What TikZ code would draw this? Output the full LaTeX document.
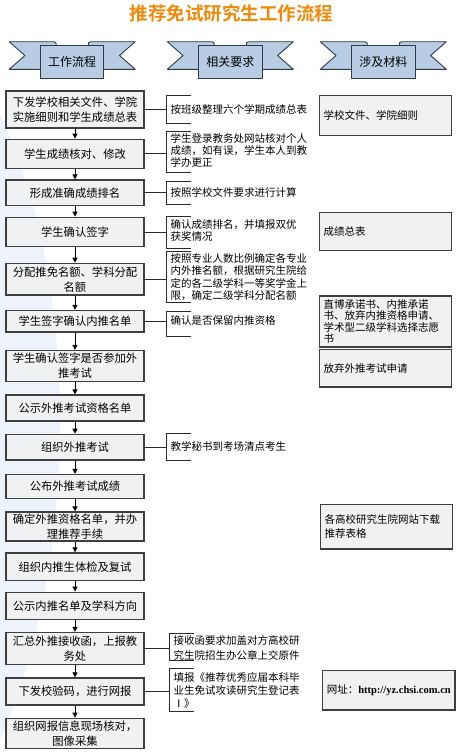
\documentclass[tikz,border=0pt]{standalone}
\usepackage{fontspec}
\setmainfont{Noto Sans CJK SC}
\newfontfamily\cjkbold{Noto Sans CJK SC Bold}
\newfontfamily\urlfont{Liberation Serif}
\usetikzlibrary{arrows.meta}
\definecolor{titleorange}{HTML}{F08A0A}
\definecolor{ribfill}{HTML}{B8CDE4}
\definecolor{ribline}{HTML}{2E3A47}
\definecolor{boxfill}{HTML}{EFF1F3}
\definecolor{boxline}{HTML}{3F3F3F}
\definecolor{brkline}{HTML}{2A2A2A}
\definecolor{swoosh}{HTML}{ECF3FA}
\tikzset{
  flowbox/.style={draw=boxline, fill=boxfill, line width=1.3pt, minimum width=138pt,
    text width=130pt, align=center, inner sep=0pt, font=\fontsize{11.3}{15}\selectfont},
  matbox/.style={draw=boxline, fill=boxfill, line width=1.3pt, minimum width=132.4pt,
    text width=124pt, align=left, inner xsep=4pt, inner ysep=0pt, font=\fontsize{10.5}{11.6}\selectfont},
  req/.style={align=left, inner sep=1pt, anchor=west, font=\fontsize{10.5}{12}\selectfont},
  brk/.style={draw=brkline, line width=0.9pt},
  conn/.style={draw=brkline, line width=0.9pt},
  flowarrow/.style={draw=black, line width=1pt, -{Triangle[length=5pt,width=5pt]}},
  ribstyle/.style={draw=ribline, fill=ribfill, line width=0.9pt, line join=round},
  ribtext/.style={font=\fontsize{12}{14}\selectfont, inner sep=0pt},
  ribbon/.pic={
    \path[ribstyle] (-63,41.7) -- (-18.5,41.7) .. controls (-16,41.7) and (-16,43) .. (-16,45.7)
       -- (-16,69.3) -- (-63,69.3) -- (-47.3,55.5) -- cycle;
    \path[ribstyle] (63,41.7) -- (18.5,41.7) .. controls (16,41.7) and (16,43) .. (16,45.7)
       -- (16,69.3) -- (63,69.3) -- (47.3,55.5) -- cycle;
    \path[ribstyle] (-31.7,45.7) rectangle (31.7,78.3);
  }
}
\begin{document}
\begin{tikzpicture}[x=1pt,y=-1pt]
\useasboundingbox (0,0) rectangle (462,755);
\fill[white] (0,0) rectangle (462,755);
% faint background swoosh
\fill[swoosh] (0,115) .. controls (80,280) and (80,560) .. (0,740) -- cycle;

% title
\node[font=\cjkbold\fontsize{18.5}{20}\selectfont, text=titleorange, inner sep=0pt] (title) at (231.7,13) {推荐免试研究生工作流程};

% ribbons
\pic at (72.2,0) {ribbon};
\pic at (230.3,0) {ribbon};
\pic at (383.3,0) {ribbon};
\node[ribtext] (h1) at (72.2,61.5) {工作流程};
\node[ribtext] (h2) at (230.3,61.5) {相关要求};
\node[ribtext] (h3) at (383.3,61.5) {涉及材料};

% left flow boxes
\node[flowbox, minimum height=37pt]   (b1)  at (75,109.5) {下发学校相关文件、学院\\实施细则和学生成绩总表};
\node[flowbox, minimum height=29pt]   (b2)  at (75,153.8) {学生成绩核对、修改};
\node[flowbox, minimum height=25.7pt] (b3)  at (75,192.9) {形成准确成绩排名};
\node[flowbox, minimum height=29.4pt] (b4)  at (75,232)   {学生确认签字};
\node[flowbox, minimum height=31.7pt] (b5)  at (75,279.2) {分配推免名额、学科分配\\名额};
\node[flowbox, minimum height=21.5pt] (b6)  at (75,321.2) {学生签字确认内推名单};
\node[flowbox, minimum height=31pt]   (b7)  at (75,366)   {学生确认签字是否参加外\\推考试};
\node[flowbox, minimum height=26pt]   (b8)  at (75,408)   {公示外推考试资格名单};
\node[flowbox, minimum height=25.7pt] (b9)  at (75,447.2) {组织外推考试};
\node[flowbox, minimum height=24pt]   (b10) at (75,486.5) {公布外推考试成绩};
\node[flowbox, minimum height=29pt]   (b11) at (75,526.5) {确定外推资格名单，并办\\理推荐手续};
\node[flowbox, minimum height=27.5pt] (b12) at (75,566.7) {组织内推生体检及复试};
\node[flowbox, minimum height=27.5pt] (b13) at (75,606)   {公示内推名单及学科方向};
\node[flowbox, minimum height=32pt]   (b14) at (75,648.5) {汇总外推接收函，上报教\\务处};
\node[flowbox, minimum height=27pt]   (b15) at (75,691.5) {下发校验码，进行网报};
\node[flowbox, minimum height=30pt]   (b16) at (75,733.3) {组织网报信息现场核对，\\图像采集};

\foreach \a/\b in {b1/b2,b2/b3,b3/b4,b4/b5,b5/b6,b6/b7,b7/b8,b8/b9,b9/b10,b10/b11,b11/b12,b12/b13,b13/b14,b14/b15,b15/b16}
  \draw[flowarrow] (\a.south) -- (\b.north);

% requirement brackets
\coordinate (k1) at (166,109.5);
\draw[brk] (191,95.7) -| (166,123.3) -- (191,123.3);
\draw[conn] (b1.east) -- (b1.east -| k1);
\node[req] (r1) at (169.5,109) {按班级整理六个学期成绩总表};

\coordinate (k2) at (166,152);
\draw[brk] (191,131) -| (166,172.3) -- (191,172.3);
\draw[conn] (b2.east) -- (b2.east -| k2);
\node[req] (r2) at (169.5,150.3) {学生登录教务处网站核对个人\\成绩，如有误，学生本人到教\\学办更正};

\coordinate (k3) at (166,193);
\draw[brk] (191,181.7) -| (166,204.3) -- (191,204.3);
\draw[conn] (b3.east) -- (b3.east -| k3);
\node[req] (r3) at (169.5,192) {按照学校文件要求进行计算};

\coordinate (k4) at (166,232);
\draw[brk] (191,216) -| (166,248.3) -- (191,248.3);
\draw[conn] (b4.east) -- (b4.east -| k4);
\node[req] (r4) at (169.5,231) {确认成绩排名，并填报双优\\获奖情况};

\coordinate (k5) at (166,277);
\draw[brk] (191,251) -| (166,302.5) -- (191,302.5);
\draw[conn] (b5.east) -- (b5.east -| k5);
\node[req, font=\fontsize{10.5}{12.3}\selectfont] (r5) at (169.5,277) {按照专业人数比例确定各专业\\内外推名额，根据研究生院给\\定的各二级学科一等奖学金上\\限，确定二级学科分配名额};

\coordinate (k6) at (166,321);
\draw[brk] (191,311.7) -| (166,336) -- (191,336);
\draw[conn] (b6.east) -- (b6.east -| k6);
\node[req] (r6) at (169.5,321) {确认是否保留内推资格};

\coordinate (k9) at (166,447);
\draw[brk] (191,433.3) -| (166,460) -- (191,460);
\draw[conn] (b9.east) -- (b9.east -| k9);
\node[req] (r9) at (169.5,446.5) {教学秘书到考场清点考生};

\coordinate (k14) at (169,647);
\draw[brk] (193.5,633.3) -| (169,660) -- (193.5,660);
\draw[conn] (b14.east) -- (b14.east -| k14);
\node[req, font=\fontsize{10.5}{15}\selectfont] (r14) at (172.5,647.5) {接收函要求加盖对方高校研\\究生院招生办公章上交原件};

\coordinate (k15) at (169,690);
\draw[brk] (193.5,668.3) -| (169,711) -- (193.5,711);
\draw[conn] (b15.east) -- (b15.east -| k15);
\node[req, font=\fontsize{10.5}{13.3}\selectfont] (r15) at (172.5,690.5) {填报《推荐优秀应届本科毕\\业生免试攻读研究生登记表\\Ⅰ》};

% material boxes
\node[matbox, minimum height=40pt]   (m1) at (385.5,115.7) {学校文件、学院细则};
\node[matbox, minimum height=38pt]   (m2) at (385.5,231.7) {成绩总表};
\node[matbox, minimum height=51pt]   (m3) at (385.5,321.5) {直博承诺书、内推承诺\\书、放弃内推资格申请、\\学术型二级学科选择志愿\\书};
\node[matbox, minimum height=37.5pt] (m4) at (385.5,368.3) {放弃外推考试申请};
\node[matbox, minimum height=44.7pt, font=\fontsize{10.5}{14.4}\selectfont] (m5) at (386.5,526.7) {各高校研究生院网站下载\\推荐表格};
\node[matbox, minimum height=39.5pt] (m6) at (388.8,690.3) {网址：{\urlfont\bfseries http://yz.chsi.com.cn}};
\end{tikzpicture}
\end{document}
